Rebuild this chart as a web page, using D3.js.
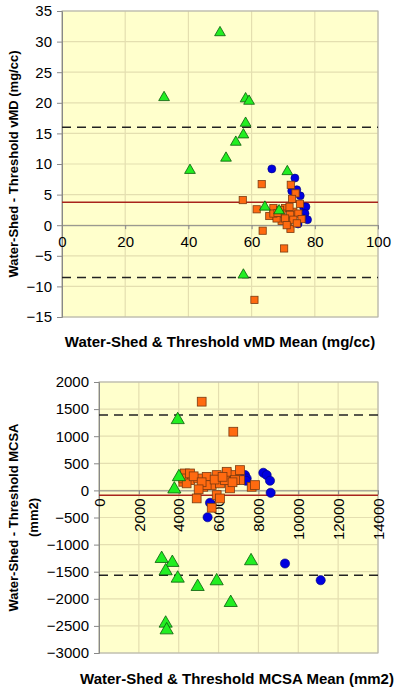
<!DOCTYPE html>
<html><head><meta charset="utf-8">
<script src="https://cdn.jsdelivr.net/npm/d3@7"></script>
<style>body{margin:0;background:#fff}svg{display:block}text{font-family:"Liberation Sans",Arial,sans-serif}</style>
</head><body>
<script>
// ---- Top chart data (vMD) ----
const topXTicks = [0,20,40,60,80,100];
const topYTicks = [-15,-10,-5,0,5,10,15,20,25,30,35];
const topMean = 3.75, topUpper = 16.0, topLower = -8.55;
const topTriangles = [[50,31.6],[32.3,21],[58.1,20.8],[59.2,20.4],[58.1,16.8],[57.4,14.9],[55,13.7],[51.9,11.1],[40.5,9.1],[71.3,8.9],[64.2,3.1],[68.7,2.5],[57.4,-8.0]];
const topCircles = [[66.4,9.2],[73.7,7.7],[72.7,5.6],[75.4,4.8],[74.3,5.8],[76.4,3.0],[77.2,3.0],[76.9,1.9],[77.7,0.9],[74.7,0.2],[76.0,1.2]];
const topSquares = [[63.2,6.7],[72.4,6.6],[57.2,4.1],[73.9,5.2],[72.8,4.3],[61.6,2.6],[75.3,3.5],[66.9,2.8],[65.6,1.5],[63.5,-0.9],[72.3,-0.6],[70.3,-3.8],[60.9,-12.2],[70.6,2.8],[73.2,2.2],[69.5,1.9],[72.2,1.7],[74.8,1.9],[69.5,0.7],[71.6,0.6],[73.2,0.9],[75.8,1.0],[67.9,1.1],[70.6,1.1],[69.0,2.5],[74.3,0.3],[66.9,1.9],[71.1,0.0],[68.2,2.0],[72.0,3.0]];

// ---- Bottom chart data (MCSA) ----
const botXTicks = [0,2000,4000,6000,8000,10000,12000,14000];
const botYTicks = [-3000,-2500,-2000,-1500,-1000,-500,0,500,1000,1500,2000];
const botMean = -90, botUpper = 1390, botLower = -1565;
const botTriangles = [[3950,1317],[4010,264],[3780,37],[3144,-1245],[3680,-1318],[3345,-1472],[3950,-1608],[4950,-1762],[3345,-2438],[3395,-2562],[7630,-1287],[5905,-1657],[6610,-2057]];
const botCircles = [[9333,-1349],[11124,-1657],[8245,325],[8414,283],[8580,178],[8614,-44],[7326,283],[7410,221],[7376,178],[5570,-229],[5450,-495]];
const botSquares = [[5153,1637],[6739,1083],[4902,-148],[4315,313],[4230,159],[4566,190],[4982,221],[5404,251],[5906,283],[6407,314],[6824,283],[7075,375],[7075,190],[7660,66],[7827,98],[5233,66],[5655,98],[6071,129],[6573,37],[5906,-87],[6071,-148],[5655,-320],[6322,190],[5404,98],[4230,221],[4566,313],[4398,129],[6407,344],[6824,190],[4750,260],[5150,150],[5800,200],[6200,250],[6700,150],[5000,20]];

const svg = d3.select("body").append("svg").attr("width",400).attr("height",693);

function chart(cfg){
  const g = svg.append("g");
  const x = d3.scaleLinear().domain(cfg.xDomain).range([cfg.left,cfg.right]);
  const y = d3.scaleLinear().domain(cfg.yDomain).range([cfg.bottom,cfg.top]);
  g.append("rect").attr("x",cfg.left).attr("y",cfg.top).attr("width",cfg.right-cfg.left).attr("height",cfg.bottom-cfg.top)
    .attr("fill","#ffffcc");
  // gridlines
  g.append("g").selectAll("line").data(cfg.yTicks).join("line")
    .attr("x1",cfg.left).attr("x2",cfg.right).attr("y1",d=>y(d)).attr("y2",d=>y(d))
    .attr("stroke","#e4dfb0").attr("stroke-width",1.2);
  g.append("g").selectAll("line").data(cfg.xTicks).join("line")
    .attr("y1",cfg.top).attr("y2",cfg.bottom).attr("x1",d=>x(d)).attr("x2",d=>x(d))
    .attr("stroke","#e4dfb0").attr("stroke-width",1.2);
  g.append("rect").attr("x",cfg.left).attr("y",cfg.top).attr("width",cfg.right-cfg.left).attr("height",cfg.bottom-cfg.top)
    .attr("fill","none").attr("stroke","#b0b0b0");
  // y axis
  const ya = g.append("g").attr("transform",`translate(${cfg.left},0)`)
    .call(d3.axisLeft(y).tickValues(cfg.yTicks).tickSize(5).tickPadding(5).tickFormat(d3.format("d")));
  ya.select(".domain").attr("stroke","#888");
  ya.selectAll(".tick line").attr("stroke","#888");
  ya.selectAll("text").attr("font-size",15).attr("fill","#000");
  // x axis at y=0
  const xa = g.append("g").attr("transform",`translate(0,${y(0)})`)
    .call(d3.axisBottom(x).tickValues(cfg.xTicks).tickSize(4).tickFormat(d3.format("d")));
  xa.select(".domain").attr("stroke","#888");
  xa.selectAll(".tick line").attr("stroke","#888");
  if(cfg.rotate){
    xa.selectAll("text").attr("font-size",15).attr("fill","#000")
      .attr("transform","rotate(-90)").attr("text-anchor","end")
      .attr("x",-cfg.xLabOff).attr("y",0).attr("dy","0.35em");
  } else {
    xa.selectAll("text").attr("font-size",15).attr("fill","#000").attr("y",cfg.xLabOff).attr("dy","0");
  }
  // limits
  [cfg.upper,cfg.lower].forEach(v=>{
    g.append("line").attr("x1",cfg.left).attr("x2",cfg.right).attr("y1",y(v)).attr("y2",y(v))
      .attr("stroke","#222").attr("stroke-width",1.6).attr("stroke-dasharray","9,6");
  });
  g.append("line").attr("x1",cfg.left).attr("x2",cfg.right).attr("y1",y(cfg.mean)).attr("y2",y(cfg.mean))
    .attr("stroke","#a8241c").attr("stroke-width",1.6);
  // markers
  const r = cfg.r;
  g.append("g").selectAll("circle").data(cfg.circles).join("circle")
    .attr("cx",d=>x(d[0])).attr("cy",d=>y(d[1])).attr("r",r.c)
    .attr("fill","#0000e0").attr("stroke","#00007a").attr("stroke-width",0.6);
  g.append("g").selectAll("rect").data(cfg.squares).join("rect")
    .attr("x",d=>x(d[0])-r.s).attr("y",d=>y(d[1])-r.s).attr("width",2*r.s).attr("height",2*r.s)
    .attr("fill","#ff6a10").attr("stroke","#7a3a10").attr("stroke-width",0.8);
  const tri = d3.symbol().type(d3.symbolTriangle).size(r.t);
  g.append("g").selectAll("path").data(cfg.triangles).join("path")
    .attr("d",tri).attr("transform",d=>`translate(${x(d[0])},${y(d[1])+0.8})`)
    .attr("fill","#22ee22").attr("stroke","#0a5a0a").attr("stroke-width",0.8);
  // titles
  g.append("text").attr("x",cfg.xtX).attr("y",cfg.xtY).attr("text-anchor","middle")
    .attr("font-weight","bold").attr("font-size",cfg.xTitleSize).text(cfg.xTitle);
  const cy = (cfg.top+cfg.bottom)/2;
  cfg.yTitle.forEach((t,i)=>{
    g.append("text").attr("transform",`translate(${cfg.ytX + i*20},${cy}) rotate(-90)`)
      .attr("text-anchor","middle").attr("font-weight","bold").attr("font-size",cfg.yTitleSize).text(t);
  });
}

chart({xDomain:[0,100],yDomain:[-15,35],left:62,right:378,top:11,bottom:317,
  xTicks:topXTicks,yTicks:topYTicks,mean:topMean,upper:topUpper,lower:topLower,
  triangles:topTriangles,circles:topCircles,squares:topSquares,
  r:{c:4,s:3.6,t:50},xLabOff:22,rotate:false,
  xTitle:"Water-Shed & Threshold vMD Mean (mg/cc)",xtX:220,xtY:347,
  yTitle:["Water-Shed - Threshold vMD (mg/cc)"],ytX:18,xTitleSize:15,yTitleSize:13});

chart({xDomain:[0,14000],yDomain:[-3000,2000],left:99,right:378,top:382,bottom:653,
  xTicks:botXTicks,yTicks:botYTicks,mean:botMean,upper:botUpper,lower:botLower,
  triangles:botTriangles,circles:botCircles,squares:botSquares,
  r:{c:4.6,s:4.4,t:75},xLabOff:8,rotate:true,
  xTitle:"Water-Shed & Threshold MCSA Mean (mm2)",xtX:237,xtY:684,
  yTitle:["Water-Shed - Threshold MCSA","(mm2)"],ytX:18,xTitleSize:15,yTitleSize:13});
</script>
</body></html>
